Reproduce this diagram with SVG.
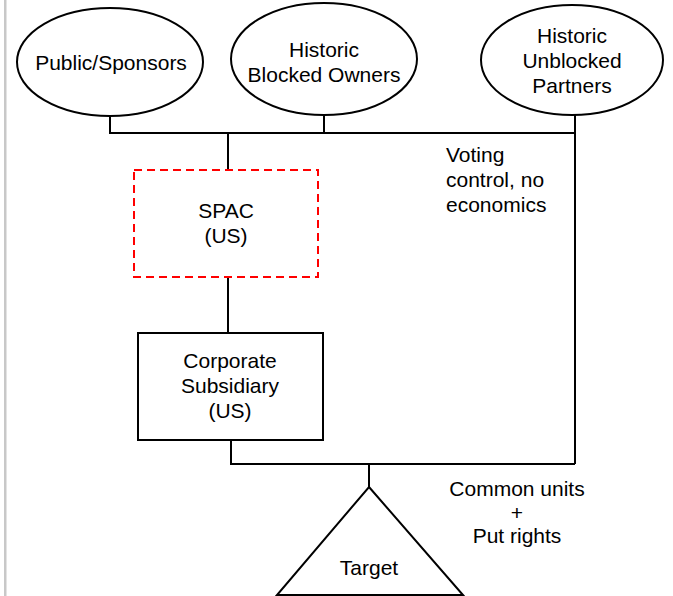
<svg xmlns="http://www.w3.org/2000/svg" width="673" height="596" viewBox="0 0 673 596">
  <style>
    .shape { fill: #ffffff; stroke: #000000; stroke-width: 2; }
    .dashed { fill: #ffffff; stroke: #ff0000; stroke-width: 2; stroke-dasharray: 8 5; }
    .wire { fill: none; stroke: #000000; stroke-width: 2; }
    text { font-family: "Liberation Sans", Arial, sans-serif; font-size: 21px; fill: #000000; }
    .c { text-anchor: middle; }
  </style>
  <rect width="673" height="596" fill="#ffffff"/>
  <rect x="4" y="0" width="2.5" height="596" fill="#c8c8c8"/>

  <!-- connectors -->
  <g id="connectors">
    <polyline class="wire" points="110,116 110,133 575,133"/>
    <line class="wire" x1="324" y1="115" x2="324" y2="133"/>
    <line class="wire" x1="575" y1="115" x2="575" y2="464"/>
    <line class="wire" x1="228" y1="133" x2="228" y2="170"/>
    <line class="wire" x1="228" y1="277" x2="228" y2="333"/>
    <polyline class="wire" points="231,440 231,464 575,464"/>
    <line class="wire" x1="369" y1="464" x2="369" y2="487"/>
  </g>

  <!-- edge labels -->
  <g id="label-voting">
    <text x="446" y="162">Voting</text>
    <text x="446" y="187">control, no</text>
    <text x="446" y="212">economics</text>
  </g>
  <g id="label-units">
    <text class="c" x="517" y="496">Common units</text>
    <text class="c" x="517" y="520">+</text>
    <text class="c" x="517" y="543">Put rights</text>
  </g>

  <g id="public-sponsors">
    <ellipse class="shape" cx="110" cy="62" rx="93" ry="54"/>
    <text class="c" x="111" y="70">Public/Sponsors</text>
  </g>

  <g id="blocked-owners">
    <ellipse class="shape" cx="324" cy="59" rx="93" ry="56"/>
    <text class="c" x="324" y="57">Historic</text>
    <text class="c" x="324" y="82">Blocked Owners</text>
  </g>

  <g id="unblocked-partners">
    <ellipse class="shape" cx="572" cy="60" rx="91" ry="55"/>
    <text class="c" x="572" y="43">Historic</text>
    <text class="c" x="572" y="68">Unblocked</text>
    <text class="c" x="572" y="93">Partners</text>
  </g>

  <g id="spac">
    <rect class="dashed" x="134" y="170" width="184" height="107"/>
    <text class="c" x="226" y="218">SPAC</text>
    <text class="c" x="226" y="243">(US)</text>
  </g>

  <g id="corporate-subsidiary">
    <rect class="shape" x="138" y="333" width="185" height="107"/>
    <text class="c" x="230" y="368">Corporate</text>
    <text class="c" x="230" y="393">Subsidiary</text>
    <text class="c" x="230" y="418">(US)</text>
  </g>

  <g id="target">
    <polygon class="shape" points="369,487 463,595 277,595"/>
    <text class="c" x="369" y="575">Target</text>
  </g>
</svg>
